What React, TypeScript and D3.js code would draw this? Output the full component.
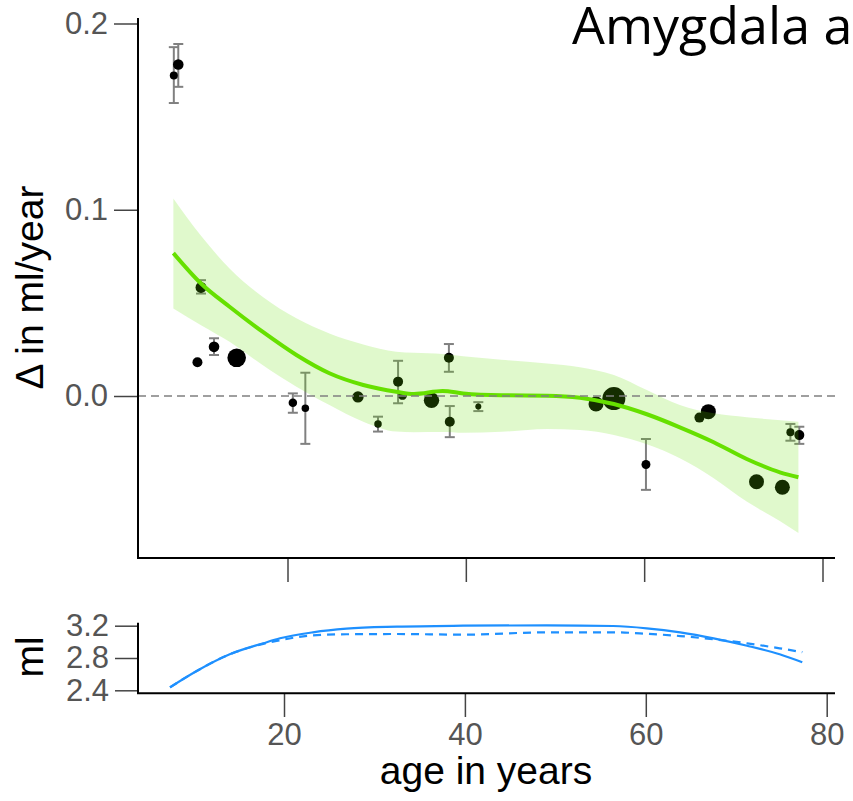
import React, { useEffect, useRef } from "react"
import * as d3 from "d3"

// per-study annual change (ml/year), mean age of each cohort
const studyAges = [7.25, 7.75, 9.9, 10.3, 11.76, 14.3, 20.6, 22.0, 27.9, 30.15, 32.4, 32.9, 36.15, 38.1, 38.2, 41.4, 54.6, 56.6, 60.2, 66.2, 67.2, 72.6, 75.5, 76.4, 77.4]
const studyRates = [0.1721, 0.178, 0.0181, 0.0583, 0.0264, 0.0205, -0.0036, -0.0066, -0.0005, -0.015, 0.0077, 0.0002, -0.0023, 0.0205, -0.0138, -0.0057, -0.0043, -0.0014, -0.0368, -0.0116, -0.0084, -0.046, -0.049, -0.0195, -0.021]
const studyLow = [0.1573, 0.166, null, 0.055, 0.022, null, -0.009, -0.0257, null, -0.0191, -0.0039, null, null, 0.013, -0.0221, -0.0081, null, null, -0.0504, null, null, null, null, -0.024, -0.0257]
const studyHigh = [0.1873, 0.189, null, 0.0622, 0.031, null, 0.0014, 0.0125, null, -0.0111, 0.0189, null, null, 0.0279, -0.0054, -0.0033, null, null, -0.0231, null, null, null, null, -0.015, -0.0165]
// relative sample size, drawn as dot area
const studyWeights = [16, 28, 25, 30, 28, 86, 18, 14, 32, 14, 25, 18, 59, 25, 25, 9, 56, 132, 20, 25, 56, 56, 56, 16, 25]

// fitted rate of change and its confidence band
const fitAges = [7.2, 10.3, 13.5, 17.2, 21.0, 24.7, 28.5, 32.2, 34.2, 37.4, 39.7, 44, 49.1, 52.8, 56.6, 60.3, 64.0, 67.8, 71.5, 75.3, 77.3]
const fitRate = [0.0767, 0.0604, 0.0479, 0.0345, 0.022, 0.0122, 0.0059, 0.0023, 0.0011, 0.0027, 0.0014, 0.0004, 0.0002, -0.0009, -0.0043, -0.0098, -0.0168, -0.0248, -0.0338, -0.0411, -0.0436]
const fitUpper = [0.106, 0.086, 0.0685, 0.0533, 0.0417, 0.0336, 0.0277, 0.0238, 0.0232, 0.0226, 0.0214, 0.0195, 0.0175, 0.0155, 0.0113, 0.0032, -0.0048, -0.0093, -0.0114, -0.013, -0.0138]
const fitLower = [0.047, 0.038, 0.0291, 0.0166, 0.005, -0.0048, -0.0138, -0.0191, -0.0194, -0.0193, -0.0197, -0.0192, -0.0177, -0.0182, -0.0209, -0.0259, -0.0334, -0.0441, -0.0567, -0.0674, -0.0736]

// volume trajectories (ml)
const volAges = [7.4, 10.35, 14.0, 17.7, 19.56, 23.2, 26.9, 32.5, 39.8, 49.05, 56.4, 60.1, 63.8, 67.5, 71.2, 74.8, 77.3]
const volIntegrated = [2.437, 2.639, 2.846, 2.982, 3.044, 3.118, 3.163, 3.188, 3.2, 3.205, 3.196, 3.168, 3.118, 3.044, 2.952, 2.846, 2.747]
const volCross = [2.437, 2.639, 2.846, 2.975, 3.02, 3.081, 3.094, 3.097, 3.089, 3.118, 3.118, 3.1, 3.072, 3.032, 2.982, 2.92, 2.872]

const rateTicks = [0, 0.1, 0.2]
const volTicks = [2.4, 2.8, 3.2]
const ageTicks = [20, 40, 60, 80]

const W = 853
const H = 801
const FONT = "'Liberation Sans', Arial, Helvetica, sans-serif"
const GREEN = "#66e000"
const BLUE = "#1e90ff"

export default function App() {
  const ref = useRef<SVGSVGElement>(null)

  useEffect(() => {
    const svg = d3.select(ref.current)
    svg.selectAll("*").remove()

    const x = d3.scaleLinear().domain([20, 80]).range([287.5, 822.5])
    const y = d3.scaleLinear().domain([0, 0.2]).range([396, 23.5])
    const r = d3.scaleSqrt().domain([0, 132]).range([0, 11.5])

    const xb = d3.scaleLinear().domain([20, 80]).range([284, 826.7])
    const yb = d3.scaleLinear().domain([2.4, 3.2]).range([690.3, 625.7])

    const studies = studyAges.map((a, i) => ({
      age: a,
      rate: studyRates[i],
      lo: studyLow[i],
      hi: studyHigh[i],
      w: studyWeights[i],
    }))
    const fit = fitAges.map((a, i) => ({ age: a, rate: fitRate[i], lo: fitLower[i], hi: fitUpper[i] }))

    // error bars
    const bars = svg
      .append("g")
      .attr("stroke", "#808080")
      .attr("stroke-width", 2)
      .selectAll("g")
      .data(studies.filter(d => d.lo != null))
      .join("g")
    bars
      .append("line")
      .attr("x1", d => x(d.age))
      .attr("x2", d => x(d.age))
      .attr("y1", d => y(d.lo as number))
      .attr("y2", d => y(d.hi as number))
    bars
      .append("line")
      .attr("x1", d => x(d.age) - 5)
      .attr("x2", d => x(d.age) + 5)
      .attr("y1", d => y(d.lo as number))
      .attr("y2", d => y(d.lo as number))
    bars
      .append("line")
      .attr("x1", d => x(d.age) - 5)
      .attr("x2", d => x(d.age) + 5)
      .attr("y1", d => y(d.hi as number))
      .attr("y2", d => y(d.hi as number))

    // study dots
    svg
      .append("g")
      .selectAll("circle")
      .data(studies)
      .join("circle")
      .attr("cx", d => x(d.age))
      .attr("cy", d => y(d.rate))
      .attr("r", d => r(d.w))
      .attr("fill", "#000")

    // confidence band, drawn over the dots
    const band = d3
      .area<any>()
      .x(d => x(d.age))
      .y0(d => y(d.lo))
      .y1(d => y(d.hi))
      .curve(d3.curveMonotoneX)
    svg.append("path").datum(fit).attr("d", band).attr("fill", GREEN).attr("fill-opacity", 0.2)

    const fitLine = d3
      .line<any>()
      .x(d => x(d.age))
      .y(d => y(d.rate))
      .curve(d3.curveMonotoneX)
    svg
      .append("path")
      .datum(fit)
      .attr("d", fitLine)
      .attr("fill", "none")
      .attr("stroke", GREEN)
      .attr("stroke-width", 4)

    // zero reference
    svg
      .append("line")
      .attr("x1", 138)
      .attr("x2", 835)
      .attr("y1", y(0))
      .attr("y2", y(0))
      .attr("stroke", "#808080")
      .attr("stroke-width", 1.6)
      .attr("stroke-dasharray", "8,5")

    // top panel axes
    const yAxis = svg
      .append("g")
      .attr("transform", "translate(138,0)")
      .call(
        d3
          .axisLeft(y)
          .tickValues(rateTicks)
          .tickSize(24)
          .tickPadding(6)
          .tickFormat(d3.format(".1f"))
      )
    const xAxis = svg
      .append("g")
      .attr("transform", "translate(0,558)")
      .call(
        d3
          .axisBottom(x)
          .tickValues(ageTicks)
          .tickSize(24)
          .tickFormat(() => "")
      )

    // bottom panel
    const vol = (vals: number[]) =>
      d3
        .line<number>()
        .x((_, i) => xb(volAges[i]))
        .y(d => yb(d))
        .curve(d3.curveMonotoneX)(vals)
    svg
      .append("path")
      .attr("d", vol(volCross))
      .attr("fill", "none")
      .attr("stroke", BLUE)
      .attr("stroke-width", 2.2)
      .attr("stroke-dasharray", "8,6")
    svg
      .append("path")
      .attr("d", vol(volIntegrated))
      .attr("fill", "none")
      .attr("stroke", BLUE)
      .attr("stroke-width", 2.2)

    const ybAxis = svg
      .append("g")
      .attr("transform", "translate(138,0)")
      .call(
        d3
          .axisLeft(yb)
          .tickValues(volTicks)
          .tickSize(23)
          .tickPadding(6)
          .tickFormat(d3.format(".1f"))
      )
    const xbAxis = svg
      .append("g")
      .attr("transform", "translate(0,693)")
      .call(
        d3
          .axisBottom(xb)
          .tickValues(ageTicks)
          .tickSize(24)
          .tickPadding(6)
      )

    for (const ax of [yAxis, xAxis, ybAxis, xbAxis]) {
      ax.select(".domain").remove()
      ax.selectAll(".tick line").attr("stroke", "#444").attr("stroke-width", 1.5)
      ax.selectAll(".tick text").attr("fill", "#555").attr("font-size", 31).attr("font-family", FONT)
    }

    // L-shaped frames
    svg
      .append("path")
      .attr("d", "M138,18V558H835")
      .attr("fill", "none")
      .attr("stroke", "#000")
      .attr("stroke-width", 2)
    svg
      .append("path")
      .attr("d", "M138,622.7V693.3H835")
      .attr("fill", "none")
      .attr("stroke", "#000")
      .attr("stroke-width", 2)

    // labels
    svg
      .append("text")
      .attr("transform", "translate(43,287.5) rotate(-90)")
      .attr("text-anchor", "middle")
      .attr("font-family", FONT)
      .attr("font-size", 39)
      .text("Δ in ml/year")
    svg
      .append("text")
      .attr("transform", "translate(43,657) rotate(-90)")
      .attr("text-anchor", "middle")
      .attr("font-family", FONT)
      .attr("font-size", 39)
      .text("ml")
    svg
      .append("text")
      .attr("x", 486)
      .attr("y", 784)
      .attr("text-anchor", "middle")
      .attr("font-family", FONT)
      .attr("font-size", 39)
      .text("age in years")
    svg
      .append("text")
      .attr("x", 572)
      .attr("y", 44)
      .attr("font-family", "'Open Sans', Lato, sans-serif")
      .attr("font-size", 52)
      .text("Amygdala a")
  }, [])

  return (
    <svg
      ref={ref}
      width={W}
      height={H}
      style={{ position: "absolute", left: 0, top: 0, background: "#fff" }}
    />
  )
}
